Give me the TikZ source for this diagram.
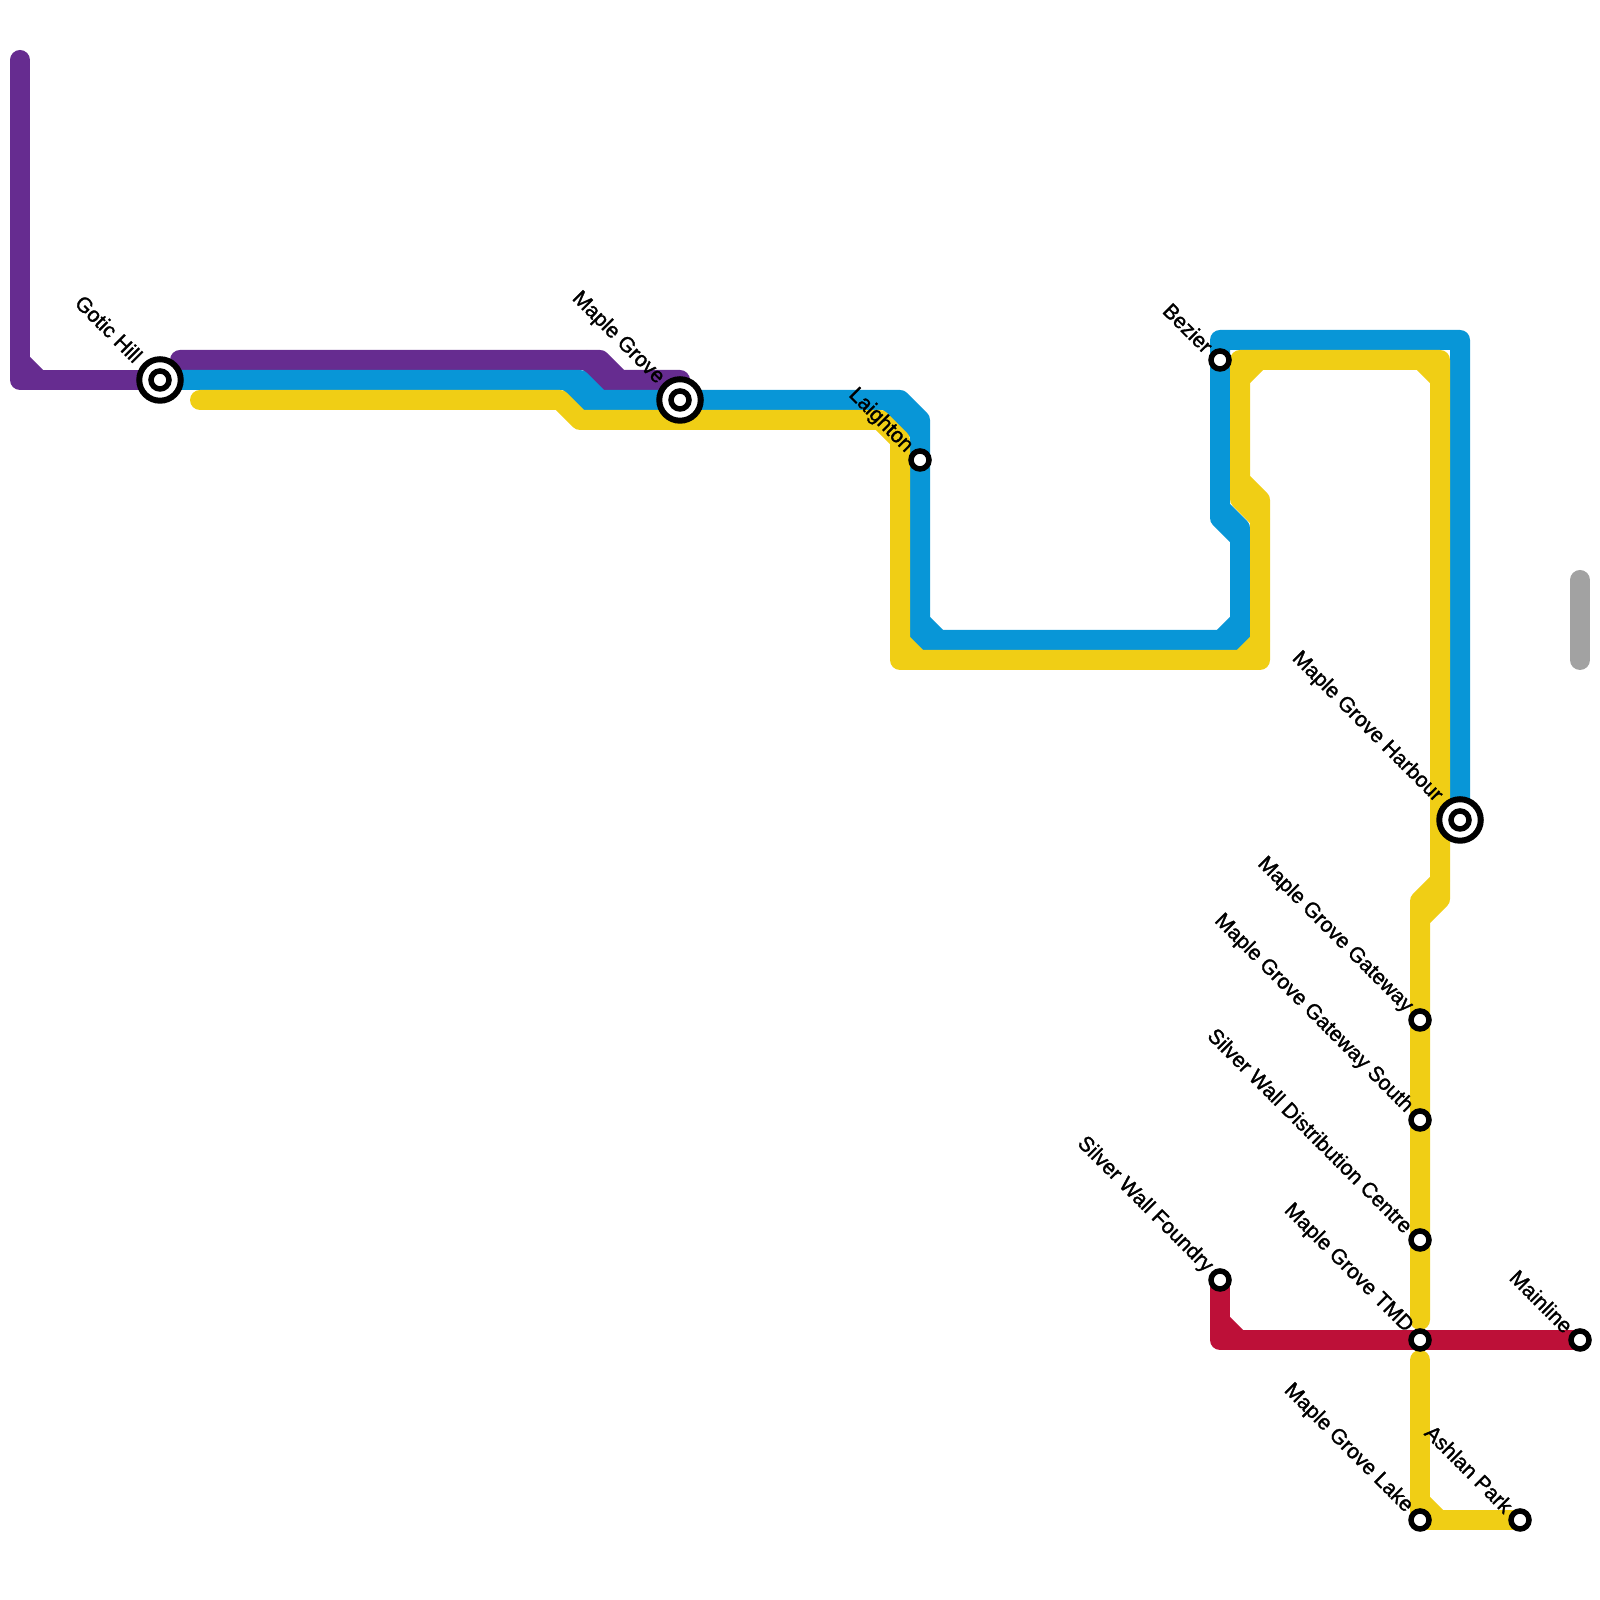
\documentclass[tikz,border=0pt]{standalone}
\usepackage{fontspec}
\usepackage{tikz}
\usetikzlibrary{positioning}
\newfontfamily\stationfont[FakeBold=1.4]{Liberation Sans}
\definecolor{linepurple}{HTML}{662C90}
\definecolor{lineblue}{HTML}{0896D7}
\definecolor{lineyellow}{HTML}{F0CE15}
\definecolor{linered}{HTML}{BD1038}
\definecolor{linegray}{HTML}{A2A2A2}
\pgfdeclarelayer{lines}
\pgfsetlayers{lines,main}

\begin{document}
\begin{tikzpicture}[line/.style = {line width=0.2cm, line cap=round, line join=round}, station/.style = {circle, draw=black, fill=white, line width=0.055cm, minimum size=0.18cm, inner sep=0pt}, bigstation/.style = {circle, draw=black, fill=white, line width=0.06cm, minimum size=0.415cm, inner sep=0pt}, stationlabel/.style = {rotate=-45, anchor=east, inner sep=0pt, text=black, font=\stationfont\fontsize{6}{7}\selectfont}]

\useasboundingbox (0,0) rectangle (16,16);

% stations
\node[bigstation] (gotic) at (1.6,12.2) {};
\node[station] (goticdot) at (gotic) {};
\node[bigstation] (maple) at (6.8,12) {};
\node[station] (mapledot) at (maple) {};
\node[station] (laighton) at (9.2,11.4) {};
\node[station] (bezier) at (12.2,12.4) {};
\node[bigstation] (harbour) at (14.6,7.8) {};
\node[station] (harbourdot) at (harbour) {};
\node[station] (gateway) at (14.2,5.8) {};
\node[station] (south) at (14.2,4.8) {};
\node[station] (centre) at (14.2,3.6) {};
\node[station] (tmd) at (14.2,2.6) {};
\node[station] (lake) at (14.2,0.8) {};
\node[station] (ashlan) at (15.2,0.8) {};
\node[station] (foundry) at (12.2,3.2) {};
\node[station] (mainline) at (15.8,2.6) {};

% line ends that have no station
\coordinate (purpletop) at (0.2,15.4);
\coordinate (purplestart) at (1.8,12.4);
\coordinate (purpleend) at (6.8,12.2);
\coordinate (yellowstart) at (2,12);
\coordinate (yellowstop) at (14.2,2.8);
\coordinate (yellowrestart) at (14.2,2.4);
\coordinate (graytop) at (15.8,10.2);
\coordinate (graybottom) at (15.8,9.4);

\begin{pgfonlayer}{lines}
% purple
\path[line, draw=linepurple] (purpletop) -- (0.2,12.2) -- (gotic.center);
\path[line, draw=linepurple] (0.2,12.39) -- (0.39,12.2);
\path[line, draw=linepurple] (purplestart) -- (6,12.4) -- (6.2,12.2) -- (purpleend);
\path[line, draw=linepurple] (5.87,12.4) -- (6.17,12.1);

% blue
\path[line, draw=lineblue] (gotic.center) -- (5.8,12.2) -- (6,12) -- (maple.center) -- (9,12) -- (9.2,11.8) -- (laighton.center) -- (9.2,9.6) -- (12.4,9.6) -- (12.4,10.72) -- (12.2,10.92) -- (bezier.center) -- (12.2,12.6) -- (14.6,12.6) -- (harbour.center);
\path[line, draw=lineblue] (5.67,12.2) -- (5.97,11.9);
\path[line, draw=lineblue] (8.87,12) -- (9.17,11.7);
\path[line, draw=lineblue] (9.2,9.79) -- (9.39,9.6);
\path[line, draw=lineblue] (12.4,9.79) -- (12.21,9.6);
\path[line, draw=lineblue] (12.2,10.92) -- (12.2,10.82) -- (12.4,10.62);

% yellow
\path[line, draw=lineyellow] (yellowstart) -- (5.6,12) -- (5.8,11.8) -- (8.8,11.8) -- (9,11.6) -- (9,9.4) -- (12.6,9.4) -- (12.6,11) -- (12.4,11.2) -- (12.4,12.4) -- (14.4,12.4) -- (14.4,7.01) -- (14.2,6.81) -- (yellowstop);
\path[line, draw=lineyellow] (9,9.59) -- (9.19,9.4);
\path[line, draw=lineyellow] (12.6,9.59) -- (12.41,9.4);
\path[line, draw=lineyellow] (12.4,12.21) -- (12.59,12.4);
\path[line, draw=lineyellow] (14.4,12.21) -- (14.21,12.4);
\path[line, draw=lineyellow] (12.4,11.2) -- (12.4,11.01) -- (12.6,10.81);
\path[line, draw=lineyellow] (14.4,7.19) -- (14.2,6.99) -- (14.2,6.81);
\path[line, draw=lineyellow] (yellowrestart) -- (lake.center) -- (ashlan.center);
\path[line, draw=lineyellow] (14.2,0.99) -- (14.39,0.8);

% red
\path[line, draw=linered] (foundry.center) -- (12.2,2.6) -- (tmd.center) -- (mainline.center);
\path[line, draw=linered] (12.2,2.79) -- (12.39,2.6);

% gray
\path[line, draw=linegray] (graytop) -- (graybottom);
\end{pgfonlayer}

% labels
\node[above left=0.04cm and 0.04cm of gotic, stationlabel] (goticlabel) {Gotic Hill};
\node[above left=0.02cm and 0.02cm of maple, stationlabel] (maplelabel) {Maple Grove};
\node[above left=0.02cm and 0.02cm of laighton, stationlabel] (laightonlabel) {Laighton};
\node[above left=0.02cm and 0.02cm of bezier, stationlabel] (bezierlabel) {Bezier};
\node[above left=0.04cm and 0.04cm of harbour, stationlabel] (harbourlabel) {Maple Grove Harbour};
\node[above left=0.02cm and 0.02cm of gateway, stationlabel] (gatewaylabel) {Maple Grove Gateway};
\node[above left=0.02cm and 0.02cm of south, stationlabel] (southlabel) {Maple Grove Gateway South};
\node[above left=0.02cm and 0.02cm of centre, stationlabel] (centrelabel) {Silver Wall Distribution Centre};
\node[above left=0.02cm and 0.02cm of tmd, stationlabel] (tmdlabel) {Maple Grove TMD};
\node[above left=0.02cm and 0.02cm of lake, stationlabel] (lakelabel) {Maple Grove Lake};
\node[above left=0.02cm and 0.02cm of ashlan, stationlabel] (ashlanlabel) {Ashlan Park};
\node[above left=0.02cm and 0.02cm of foundry, stationlabel] (foundrylabel) {Silver Wall Foundry};
\node[above left=0.02cm and 0.02cm of mainline, stationlabel] (mainlinelabel) {Mainline};
\end{tikzpicture}
\end{document}
